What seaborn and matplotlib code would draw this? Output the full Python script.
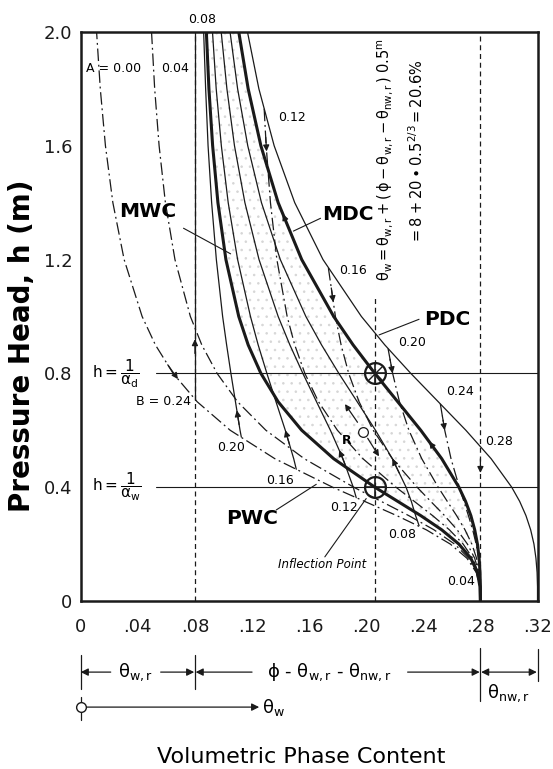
import numpy as np
import seaborn as sns
import matplotlib
import matplotlib.pyplot as plt
from matplotlib.ticker import FixedLocator

matplotlib.use('Agg')

# pressure head grid (m) used by the full-length curves
H_MAIN = [0.0, 0.05, 0.1, 0.15, 0.2, 0.25, 0.3, 0.35, 0.4, 0.5, 0.6, 0.7,
          0.8, 0.9, 1.0, 1.2, 1.4, 1.6, 1.8, 2.0]

# main curves (volumetric water content)
PDC = [0.320, 0.320, 0.3197, 0.3189, 0.3175, 0.3152, 0.3119, 0.3075, 0.3019, 0.2875,
       0.2698, 0.2505, 0.2312, 0.2130, 0.1966, 0.1697, 0.1499, 0.1355, 0.1248, 0.1168]
MDC = [0.280, 0.280, 0.2797, 0.2791, 0.2779, 0.2760, 0.2733, 0.2696, 0.2649, 0.2529,
       0.2382, 0.2221, 0.2060, 0.1908, 0.1772, 0.1548, 0.1383, 0.1262, 0.1173, 0.1107]
MWC = [0.280, 0.2797, 0.2779, 0.2733, 0.2649, 0.2529, 0.2382, 0.2221, 0.2060, 0.1772,
       0.1548, 0.1383, 0.1262, 0.1173, 0.1107, 0.1017, 0.0961, 0.0924, 0.0898, 0.0880]
PWC = [0.280, 0.2796, 0.2771, 0.2706, 0.2589, 0.2421, 0.2214, 0.1989, 0.1764, 0.1360,
       0.1047, 0.0816, 0.0647, 0.0523, 0.0430, 0.0304, 0.0225, 0.0173, 0.0137, 0.0111]
A04 = [0.280, 0.2797, 0.2775, 0.2719, 0.2619, 0.2475, 0.2298, 0.2105, 0.1912, 0.1566,
       0.1297, 0.1099, 0.0955, 0.0848, 0.0768, 0.0660, 0.0593, 0.0549, 0.0518, 0.0496]

# wetting scanning curves leaving the PDC (A = 0.12 ... 0.24)
W12_H = [1.73, 1.6, 1.4, 1.2, 1.0, 0.9, 0.8, 0.7, 0.6, 0.5, 0.4, 0.35, 0.3, 0.25, 0.2, 0.15, 0.1, 0.05, 0.0]
W12 = [0.1285, 0.1299, 0.1329, 0.1374, 0.1446, 0.1499, 0.1570, 0.1666, 0.1798, 0.1977,
       0.2208, 0.2337, 0.2465, 0.2583, 0.2679, 0.2746, 0.2784, 0.2798, 0.280]
W16_H = [1.17, 1.0, 0.9, 0.8, 0.7, 0.6, 0.5, 0.4, 0.35, 0.3, 0.25, 0.2, 0.15, 0.1, 0.05, 0.0]
W16 = [0.1735, 0.1784, 0.1824, 0.1877, 0.1950, 0.2049, 0.2183, 0.2356, 0.2452, 0.2549,
       0.2637, 0.2709, 0.2760, 0.2788, 0.2798, 0.280]
W20_H = [0.887, 0.8, 0.7, 0.6, 0.5, 0.4, 0.35, 0.3, 0.25, 0.2, 0.15, 0.1, 0.05, 0.0]
W20 = [0.2153, 0.2185, 0.2233, 0.2299, 0.2389, 0.2504, 0.2568, 0.2633, 0.2692, 0.2740,
       0.2773, 0.2792, 0.2799, 0.280]
W24_H = [0.693, 0.6, 0.5, 0.4, 0.35, 0.3, 0.25, 0.2, 0.15, 0.1, 0.0]
W24 = [0.2519, 0.2550, 0.2594, 0.2652, 0.2684, 0.2716, 0.2746, 0.2770, 0.2787, 0.2796, 0.280]

# drainage scanning curves leaving the PWC (B = 0.24 ... 0.08)
D24_H = [0.708, 2.0]
D24 = [0.080, 0.080]
D20_H = [0.576, 0.6, 0.7, 0.8, 0.9, 1.0, 1.2, 1.4, 1.6, 1.8, 2.0]
D20 = [0.1125, 0.1116, 0.1084, 0.1052, 0.1022, 0.0994, 0.0950, 0.0917, 0.0892, 0.0875, 0.0861]
D16_H = [0.463, 0.5, 0.6, 0.7, 0.8, 0.9, 1.0, 1.2, 1.4, 1.6, 1.8, 2.0]
D16 = [0.151, 0.1492, 0.1433, 0.1368, 0.1304, 0.1243, 0.1189, 0.1099, 0.1033, 0.0985, 0.0949, 0.0923]
D12_H = [0.363, 0.4, 0.5, 0.6, 0.7, 0.8, 0.9, 1.0, 1.2, 1.4, 1.6, 1.8, 2.0]
D12 = [0.193, 0.1909, 0.1837, 0.1749, 0.1652, 0.1556, 0.1465, 0.1383, 0.1249, 0.1150,
       0.1077, 0.1024, 0.0984]
D08_H = [0.265, 0.3, 0.35, 0.4, 0.5, 0.6, 0.7, 0.8, 0.9, 1.0, 1.2, 1.4, 1.6, 1.8, 2.0]
D08 = [0.237, 0.2346, 0.2316, 0.2279, 0.2183, 0.2065, 0.1937, 0.1808, 0.1687, 0.1577,
       0.1398, 0.1266, 0.1170, 0.1099, 0.1046]

THETA_WR = 0.08
THETA_RES = 0.28
THETA_INFL = 0.206
H_D = 0.8
H_W = 0.4
R_POINT = (0.198, 0.595)

X_TICKS = [0, 0.04, 0.08, 0.12, 0.16, 0.20, 0.24, 0.28, 0.32]
X_LABELS = ['0', '.04', '.08', '.12', '.16', '.20', '.24', '.28', '.32']
Y_TICKS = [0, 0.4, 0.8, 1.2, 1.6, 2.0]
Y_LABELS = ['0', '0.4', '0.8', '1.2', '1.6', '2.0']
Y_MINOR = [0.2, 0.6, 1.0, 1.4, 1.8]

sns.set_theme(style='white')
plt.rcParams['font.family'] = ['DejaVu Sans']
plt.rcParams['mathtext.default'] = 'regular'
for key in ['text.color', 'axes.labelcolor', 'xtick.color', 'ytick.color']:
    plt.rcParams[key] = 'black'
plt.rcParams['hatch.linewidth'] = 0.6

fig = plt.figure(figsize=(5.53, 7.69), dpi=100)
ax = fig.add_axes([0.146, 0.2185, 0.826, 0.74])

DD = (0, (10, 3, 1.5, 3))
DASH = (0, (4, 3))


def curve(th, hh, lw=0.9, ls='-'):
    sns.lineplot(x=th, y=hh, sort=False, estimator=None, color='k',
                 lw=lw, linestyle=ls, ax=ax)


def head(th, hh, h_at, up, ms=9):
    order = np.argsort(hh)
    hs = np.asarray(hh, float)[order]
    ts = np.asarray(th, float)[order]
    h0 = h_at - 0.05 if up else h_at + 0.05
    x1 = np.interp(h_at, hs, ts)
    x0 = np.interp(h0, hs, ts)
    ax.annotate('', xy=(x1, h_at), xytext=(x0, h0),
                arrowprops=dict(arrowstyle='-|>', color='k', lw=0.9,
                                mutation_scale=ms, shrinkA=0, shrinkB=0))


# stippled hysteresis region
ax.fill_betweenx(H_MAIN, MWC, MDC, facecolor='none', edgecolor='#d6d6d6',
                 hatch='..', linewidth=0)

# reference lines
ax.plot([THETA_WR, THETA_WR], [0, 2.0], color='k', lw=0.9, ls=DASH)
ax.plot([THETA_RES, THETA_RES], [0, 2.0], color='k', lw=0.9, ls=DASH)
ax.plot([THETA_INFL, THETA_INFL], [0, 1.07], color='k', lw=0.9, ls=DASH)
ax.plot([0.053, 0.32], [H_D, H_D], color='k', lw=0.8)
ax.plot([0.053, 0.32], [H_W, H_W], color='k', lw=0.8)

# wetting curves (dash-dot)
for th, hh in [(PWC, H_MAIN), (A04, H_MAIN), (W12, W12_H), (W16, W16_H),
               (W20, W20_H), (W24, W24_H)]:
    curve(th, hh, lw=0.9, ls=DD)

# drainage scanning curves
for th, hh in [(D24, D24_H), (D20, D20_H), (D16, D16_H), (D12, D12_H), (D08, D08_H)]:
    curve(th, hh, lw=0.9)

# main curves
curve(PDC, H_MAIN, lw=0.9)
curve(MDC, H_MAIN, lw=2.2)
curve(MWC, H_MAIN, lw=2.2)

# arrowheads
head(W12, W12_H, 1.58, up=False)
head(W16, W16_H, 1.05, up=False)
head(W20, W20_H, 0.80, up=False)
head(W24, W24_H, 0.60, up=False)
head([THETA_RES, THETA_RES], [0, 2.0], 0.45, up=False)
head(PWC, H_MAIN, 0.78, up=False)
head(D24, D24_H, 0.92, up=True)
head(D20, D20_H, 0.67, up=True)
head(D16, D16_H, 0.60, up=True)
head(D12, D12_H, 0.53, up=True)
head(D08, D08_H, 0.50, up=True)
head(MDC, H_MAIN, 0.56, up=True)
head(MDC, H_MAIN, 1.36, up=True)

# small scanning loop around R
ax.annotate('', xy=(0.184, 0.70), xytext=(0.195, 0.62),
            arrowprops=dict(arrowstyle='-|>', color='k', lw=0.9, mutation_scale=9))
ax.annotate('', xy=(0.210, 0.50), xytext=(0.200, 0.58),
            arrowprops=dict(arrowstyle='-|>', color='k', lw=0.9, mutation_scale=9))
ax.plot(*R_POINT, marker='o', ms=7, mfc='white', mec='k', mew=0.9, zorder=6)
ax.text(0.186, 0.565, 'R', fontsize=9, fontweight='bold', ha='center', va='center')

# inflection points
for hv in [H_D, H_W]:
    ax.plot(THETA_INFL, hv, marker='o', ms=15, mfc='none', mec='k', mew=1.6, zorder=6)
    ax.plot(THETA_INFL, hv, marker='+', ms=15, mec='k', mew=1.2, zorder=6)
ax.plot(THETA_INFL, H_D, marker='x', ms=10, mec='k', mew=1.0, zorder=6)

# curve labels
small = dict(fontsize=9, va='center')
ax.text(0.004, 1.87, 'A = 0.00', ha='left', **small)
ax.text(0.056, 1.87, '0.04', ha='left', **small)
ax.text(0.085, 2.045, '0.08', ha='center', clip_on=False, **small)
ax.text(0.138, 1.70, '0.12', ha='left', **small)
ax.text(0.181, 1.16, '0.16', ha='left', **small)
ax.text(0.222, 0.91, '0.20', ha='left', **small)
ax.text(0.256, 0.735, '0.24', ha='left', **small)
ax.text(0.283, 0.56, '0.28', ha='left', **small)
ax.text(0.077, 0.70, 'B = 0.24', ha='right', **small)
ax.text(0.115, 0.54, '0.20', ha='right', **small)
ax.text(0.149, 0.425, '0.16', ha='right', **small)
ax.text(0.194, 0.327, '0.12', ha='right', **small)
ax.text(0.215, 0.232, '0.08', ha='left', **small)
ax.text(0.276, 0.067, '0.04', ha='right', **small)

bold = dict(fontsize=14.5, fontweight='bold', ha='center', va='center')
ax.text(0.047, 1.37, 'MWC', **bold)
ax.plot([0.072, 0.105], [1.31, 1.22], color='k', lw=0.8)
ax.text(0.187, 1.36, 'MDC', **bold)
ax.plot([0.168, 0.149], [1.345, 1.30], color='k', lw=0.8)
ax.text(0.257, 0.99, 'PDC', **bold)
ax.plot([0.237, 0.209], [0.99, 0.935], color='k', lw=0.8)
ax.text(0.120, 0.29, 'PWC', **bold)
ax.plot([0.137, 0.165], [0.32, 0.41], color='k', lw=0.8)
ax.text(0.169, 0.127, 'Inflection Point', fontsize=8.5, style='italic',
        ha='center', va='center')
ax.plot([0.171, 0.200], [0.155, 0.36], color='k', lw=0.8)

ax.text(0.008, H_D, r'$h = \dfrac{1}{\alpha_d}$', fontsize=11, ha='left', va='center')
ax.text(0.008, H_W, r'$h = \dfrac{1}{\alpha_w}$', fontsize=11, ha='left', va='center')

# equation along the inflection line
ax.text(0.213, 1.55, r'$\theta_w = \theta_{w,r} + (\,\phi - \theta_{w,r} - \theta_{nw,r}\,)\;0.5^m$',
        rotation=90, fontsize=10.5, ha='center', va='center')
ax.text(0.235, 1.58, r'$= 8 + 20 \bullet 0.5^{2/3} = 20.6\%$',
        rotation=90, fontsize=10.5, ha='center', va='center')

# axes styling
ax.set_xlim(0, 0.32)
ax.set_ylim(0, 2.0)
ax.set_xlabel('')
ax.set_ylabel('')
ax.set_xticks(X_TICKS)
ax.set_xticklabels(X_LABELS)
ax.set_yticks(Y_TICKS)
ax.set_yticklabels(Y_LABELS)
ax.yaxis.set_minor_locator(FixedLocator(Y_MINOR))
ax.tick_params(axis='both', which='both', direction='in', length=10, width=1.1,
               colors='k', labelsize=13)
ax.tick_params(axis='x', pad=12)
ax.tick_params(axis='y', pad=6)
for s in ax.spines.values():
    s.set_visible(True)
    s.set_color('k')
    s.set_linewidth(1.8)

# bracket annotations under the axis
arw = dict(arrowstyle='-|>', color='k', lw=0.9, mutation_scale=11, shrinkA=0, shrinkB=0)
y1 = -0.25
y2 = -0.373
for xb, ya, yb in [(0.0, -0.19, -0.31), (0.08, -0.19, -0.31), (0.28, -0.165, -0.35),
                   (0.32, -0.17, -0.28), (0.0, -0.337, -0.418)]:
    ax.plot([xb, xb], [ya, yb], color='k', lw=0.9, clip_on=False)
ax.annotate('', xy=(0.0, y1), xytext=(0.021, y1), arrowprops=arw, annotation_clip=False)
ax.text(0.0385, y1, r'$\theta_{w,r}$', fontsize=13, ha='center', va='center')
ax.annotate('', xy=(0.0795, y1), xytext=(0.056, y1), arrowprops=arw, annotation_clip=False)
ax.annotate('', xy=(0.0805, y1), xytext=(0.120, y1), arrowprops=arw, annotation_clip=False)
ax.text(0.174, y1, r'$\phi$ - $\theta_{w,r}$ - $\theta_{nw,r}$', fontsize=13,
        ha='center', va='center')
ax.annotate('', xy=(0.2795, y1), xytext=(0.229, y1), arrowprops=arw, annotation_clip=False)
ax.annotate('', xy=(0.3195, y1), xytext=(0.2805, y1),
            arrowprops=dict(arw, arrowstyle='<|-|>'), annotation_clip=False)
ax.text(0.300, -0.325, r'$\theta_{nw,r}$', fontsize=13, ha='center', va='center')
ax.annotate('', xy=(0.125, y2), xytext=(0.0, y2), arrowprops=arw, annotation_clip=False)
ax.plot(0.0, y2, marker='o', ms=7, mfc='white', mec='k', mew=1.0, clip_on=False, zorder=6)
ax.text(0.127, y2, r'$\theta_w$', fontsize=13, ha='left', va='center')

fig.text(0.04, 0.55, 'Pressure Head, h (m)', rotation=90, fontsize=20,
         fontweight='bold', ha='center', va='center')
fig.text(0.544, 0.0156, 'Volumetric Phase Content', fontsize=16, ha='center', va='center')

plt.savefig('out.png', dpi=100)
